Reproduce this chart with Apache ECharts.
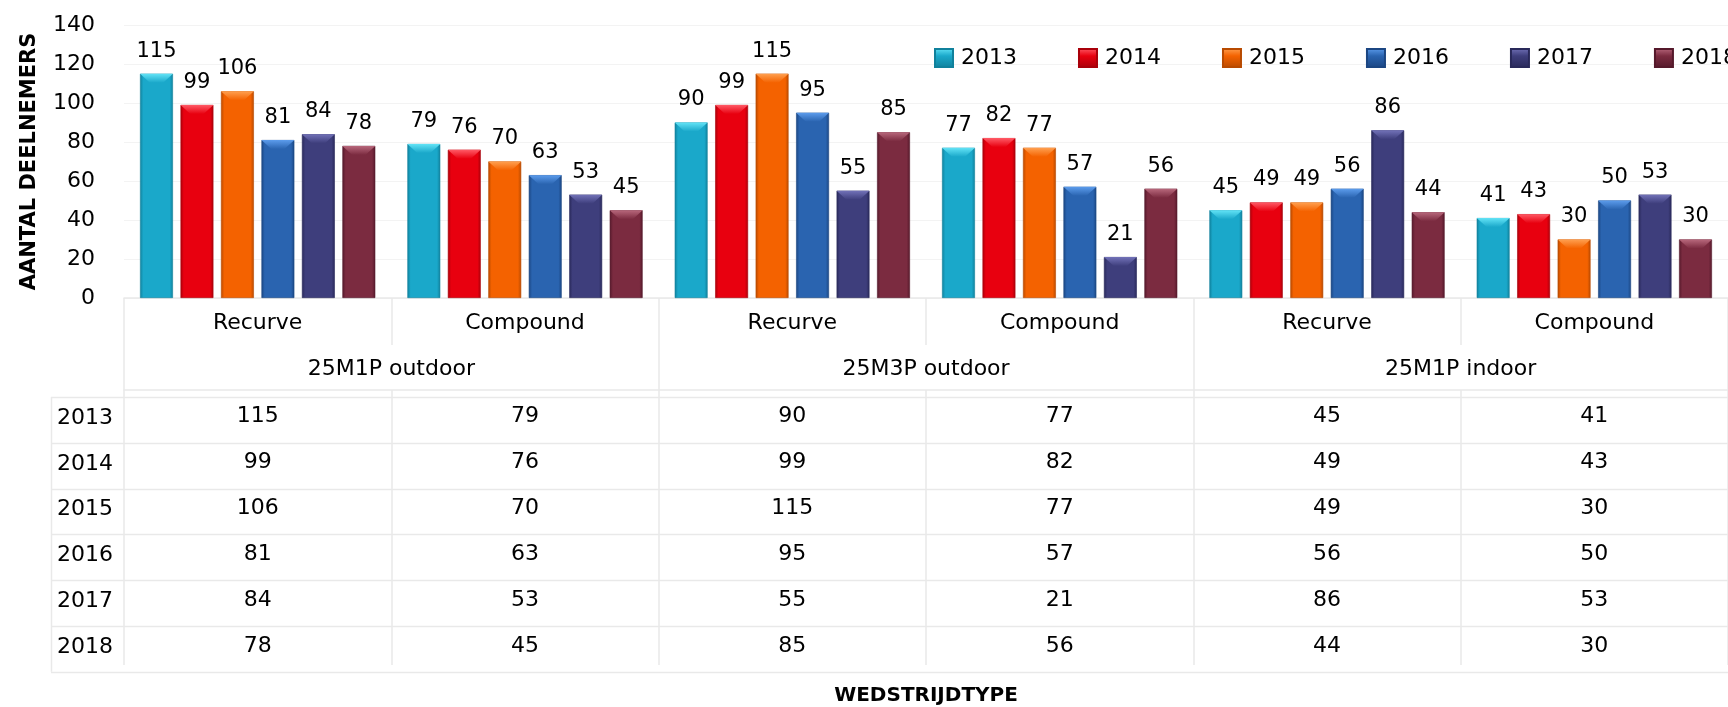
<!DOCTYPE html>
<html>
<head>
<meta charset="utf-8">
<script src="https://cdn.jsdelivr.net/npm/echarts@6/dist/echarts.min.js"></script>
<style>
html,body{margin:0;padding:0;background:#fff;}
#chart{width:1728px;height:707px;}
</style>
</head>
<body>
<div id="chart"></div>
<script>
// ---- data ----
const years = ['2013', '2014', '2015', '2016', '2017', '2018'];
const categories = ['Recurve', 'Compound', 'Recurve', 'Compound', 'Recurve', 'Compound'];
const groups = ['25M1P outdoor', '25M3P outdoor', '25M1P indoor'];
const v2013 = [115, 79, 90, 77, 45, 41];
const v2014 = [99, 76, 99, 82, 49, 43];
const v2015 = [106, 70, 115, 77, 49, 30];
const v2016 = [81, 63, 95, 57, 56, 50];
const v2017 = [84, 53, 55, 21, 86, 53];
const v2018 = [78, 45, 85, 56, 44, 30];
const yMin = 0, yMax = 140, yStep = 20;
const yTitle = 'AANTAL DEELNEMERS';
const xTitle = 'WEDSTRIJDTYPE';

const seriesValues = [v2013, v2014, v2015, v2016, v2017, v2018];
// base, light, dark
const palette = [
  ['#1aa8ca', '#62e3f6', '#10819c'],
  ['#e8000f', '#ff5a66', '#a9000a'],
  ['#f46200', '#ffa050', '#b84a00'],
  ['#2a64b0', '#5c9cec', '#1b4682'],
  ['#3e3e7c', '#7272b8', '#29295a'],
  ['#7b2b40', '#b8687c', '#55192b']
];

const FONT = 'DejaVu Sans';
const lineColor = '#e9e9e9';
const BAR_GAP = '23%', CAT_GAP = '12%';

const chart = echarts.init(document.getElementById('chart'), null, {renderer: 'canvas'});

function grad(c) {
  return new echarts.graphic.LinearGradient(0, 0, 1, 0, [
    {offset: 0, color: c[2]},
    {offset: 0.1, color: c[0]},
    {offset: 0.5, color: c[0]},
    {offset: 0.9, color: c[0]},
    {offset: 1, color: c[2]}
  ]);
}

const series = years.map((y, i) => ({
  name: y,
  type: 'bar',
  xAxisIndex: 0,
  yAxisIndex: 0,
  z: 2,
  data: seriesValues[i],
  barGap: BAR_GAP,
  barCategoryGap: CAT_GAP,
  itemStyle: {color: grad(palette[i]), borderColor: palette[i][2], borderWidth: 0.6},
  label: {show: true, position: 'top', distance: 12, fontFamily: FONT, fontSize: 21, color: '#000'}
}));

// bevel caps on top of each bar (same values, library layout)
const caps = years.map((y, i) => ({
  name: y + ' top',
  type: 'pictorialBar',
  xAxisIndex: 0,
  yAxisIndex: 0,
  z: 3,
  silent: true,
  data: seriesValues[i],
  barGap: BAR_GAP,
  barCategoryGap: CAT_GAP,
  symbol: 'path://M0,0 L20,0 L14,8 L6,8 Z',
  symbolSize: ['100%', 9],
  symbolPosition: 'end',
  symbolRepeat: false,
  itemStyle: {color: new echarts.graphic.LinearGradient(0, 0, 0, 1, [
    {offset: 0, color: palette[i][1]}, {offset: 1, color: palette[i][0]}])},
  label: {show: false}
}));

const tableRich = {v: {fontFamily: FONT, fontSize: 22, color: '#000', lineHeight: 46.1, align: 'center'}};

const option = {
  animation: false,
  backgroundColor: '#fff',
  textStyle: {fontFamily: FONT},
  legend: {
    data: years.map((y, i) => ({name: y, itemStyle: {color: new echarts.graphic.LinearGradient(0, 0, 0, 1, [
      {offset: 0, color: palette[i][1]}, {offset: 0.4, color: palette[i][0]}, {offset: 1, color: palette[i][2]}])}})),
    left: 929, top: 42, width: 1200,
    icon: 'rect', itemWidth: 18, itemHeight: 18, itemGap: 61,
    textStyle: {fontFamily: FONT, fontSize: 22, color: '#000', padding: [0, 0, 0, 3]}
  },
  grid: {left: 124, right: -11, top: 25, bottom: 402, containLabel: false},
  yAxis: {
    type: 'value', min: yMin, max: yMax, interval: yStep,
    name: yTitle, nameLocation: 'middle', nameRotate: 90, nameGap: 84,
    nameTextStyle: {fontFamily: FONT, fontWeight: 'bold', fontSize: 21, color: '#000'},
    axisLine: {show: false}, axisTick: {show: false},
    axisLabel: {fontFamily: FONT, fontSize: 22, color: '#000', margin: 29},
    splitLine: {lineStyle: {color: '#f3f3f3', width: 1}}
  },
  xAxis: [
    {
      type: 'category', data: categories, position: 'bottom',
      axisLine: {show: true, lineStyle: {color: lineColor, width: 1.5}},
      axisTick: {show: true, length: 47, lineStyle: {color: lineColor, width: 1.5}},
      axisLabel: {interval: 0, fontFamily: FONT, fontSize: 22, color: '#000', margin: 14}
    },
    {
      type: 'category', data: groups, position: 'bottom',
      axisLine: {show: false},
      axisTick: {show: true, length: 367, lineStyle: {color: lineColor, width: 1.5}},
      axisLabel: {interval: 0, fontFamily: FONT, fontSize: 22, color: '#000', margin: 60}
    },
    {
      type: 'category', data: categories, position: 'bottom', offset: 92,
      name: xTitle, nameLocation: 'middle', nameGap: 296,
      nameTextStyle: {fontFamily: FONT, fontWeight: 'bold', fontSize: 20, color: '#000'},
      axisLine: {show: true, lineStyle: {color: lineColor, width: 1.5}},
      axisTick: {show: true, length: 275, lineStyle: {color: lineColor, width: 1.5}},
      axisLabel: {
        interval: 0, margin: 3, lineHeight: 46.1,
        formatter: (val, idx) => seriesValues.map(arr => '{v|' + arr[idx] + '}').join('\n'),
        rich: tableRich
      }
    }
  ],
  series: series.concat(caps)
};
chart.setOption(option);

// table rows: horizontal lines + row headers
const rowTop = 397, rowH = 45.8, tableLeft = 51;
const graphics = [];
for (let i = 0; i <= years.length; i++) {
  const y = Math.round(rowTop + i * rowH) + 0.5;
  graphics.push({type: 'line', shape: {x1: tableLeft, y1: y, x2: 1728, y2: y}, style: {stroke: lineColor, lineWidth: 1.5}, silent: true});
}
graphics.push({type: 'line', shape: {x1: tableLeft + 0.5, y1: rowTop, x2: tableLeft + 0.5, y2: rowTop + years.length * rowH}, style: {stroke: lineColor, lineWidth: 1.5}, silent: true});
years.forEach((y, i) => {
  graphics.push({type: 'text', x: 57, y: rowTop + i * rowH + 21, style: {text: y, fontFamily: FONT, fontSize: 22, fill: '#000', verticalAlign: 'middle', align: 'left'}, silent: true});
});
chart.setOption({graphic: graphics});
</script>
</body>
</html>
